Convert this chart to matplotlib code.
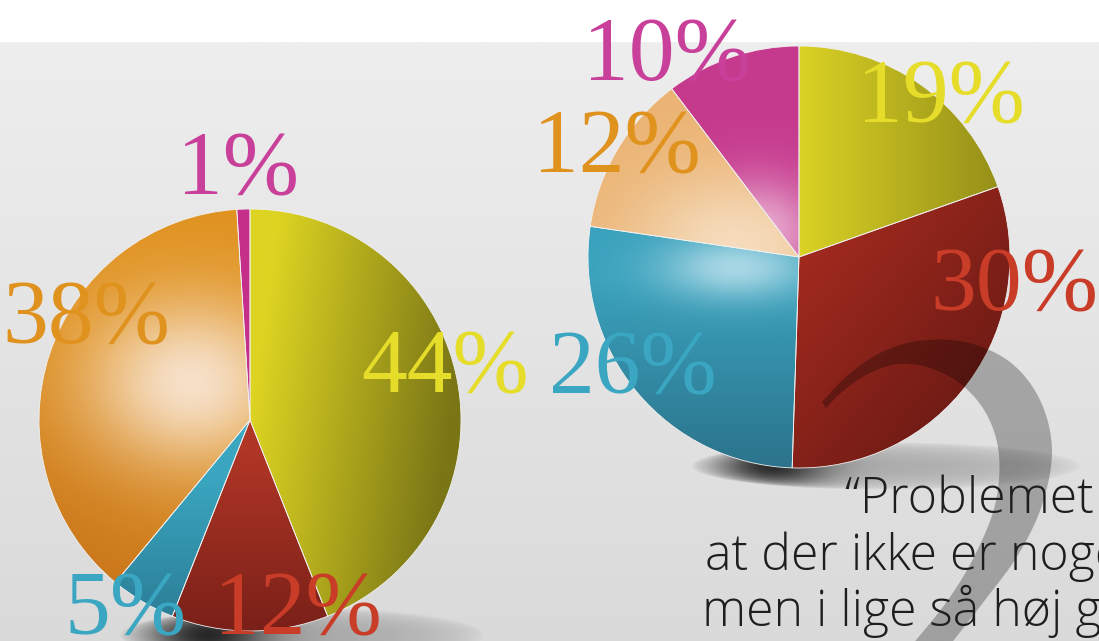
import numpy as np
import matplotlib
matplotlib.use('Agg')
import matplotlib.pyplot as plt
from matplotlib.colors import to_rgb
from matplotlib.patches import Polygon

W, H = 1099, 641

# data
left_values = [44, 12, 5, 38, 1]
left_labels = ['44%', '12%', '5%', '38%', '1%']
right_values = [19, 30, 26, 12, 10]
right_labels = ['19%', '30%', '26%', '12%', '10%']
slice_colors = ['#d4cc22', '#962a1e', '#3496b0', '#e4a04a', '#c63a8e']
label_colors = ['#e6dc2a', '#c83c28', '#3aa6c2', '#e0921e', '#c8409a']
quote_lines = ['\u201cProblemet er', 'at der ikke er noget', 'men i lige så høj grad']

# layout (pixel coords from top-left)
left_center, right_center, pie_r = (250, 420), (799, 257), 211
left_label_pos = [(445, 392), (298, 634), (125, 634), (86, 343), (238, 194)]
right_label_pos = [(941, 122), (1014, 310), (633, 393), (617, 172), (667, 80)]
quote_pos = [(845, 513), (705, 570), (702, 626)]


def Y(py):
    return H - py


def shade(U, V, base, dark, d=(0, 0), off=0.0, hl=None, hc=(0, 0), hs=(0.4, 0.4), hk=0.0):
    b = np.array(to_rgb(base))
    k = np.array(to_rgb(dark))
    t = np.clip(off + d[0] * U + d[1] * V, 0, 1)[..., None]
    img = b * (1 - t) + k * t
    if hl is not None:
        h = hk * np.exp(-((U - hc[0]) / hs[0]) ** 2 - ((V - hc[1]) / hs[1]) ** 2)
        img = img * (1 - h[..., None]) + np.array(to_rgb(hl)) * h[..., None]
    return img


left_specs = [
    dict(base='#ddd422', dark='#7a7616', d=(1.05, -0.15)),
    dict(base='#b03626', dark='#701c16', d=(0, -1.0), off=-0.15),
    dict(base='#3aa6c0', dark='#276f88', d=(0, -1.1), off=-0.3),
    dict(base='#e0921f', dark='#c4701a', d=(-0.35, -0.7), hl='#f6e0c8',
         hc=(-0.28, 0.18), hs=(0.5, 0.4), hk=1.0),
    dict(base='#c52f8a', dark='#b02478'),
]
right_specs = [
    dict(base='#dad224', dark='#8e8818', d=(0.95, 0)),
    dict(base='#a82c20', dark='#6a1a14', d=(0.6, -0.5), off=0.1),
    dict(base='#3aa2bd', dark='#2a6e86', d=(0, -1.0), off=-0.1, hl='#b4dde9',
         hc=(-0.3, -0.05), hs=(0.35, 0.15), hk=0.9),
    dict(base='#ebb474', dark='#e8a860', hl='#f6dec0', hc=(-0.3, 0.05),
         hs=(0.5, 0.35), hk=0.95),
    dict(base='#c63a8e', dark='#c03488', hl='#ecb8d6', hc=(-0.2, 0.12),
         hs=(0.3, 0.25), hk=0.9),
]

fig = plt.figure(figsize=(W / 100, H / 100), dpi=100)
ax = fig.add_axes([0, 0, 1, 1])

# background
g = np.linspace(0, 1, 200)[:, None, None]
bg = np.array(to_rgb('#dadada')) * (1 - g) + np.array(to_rgb('#eeeeee')) * g
bg = np.repeat(bg, 2, axis=1)
ax.imshow(bg, extent=(0, W, 0, Y(42)), origin='lower', zorder=0, interpolation='bilinear')


def shadow(cx, cy, a, b, xd, wd, k):
    xs = np.linspace(cx - a, cx + a, 300)
    ys = np.linspace(cy - b, cy + b, 80)
    X, Yg = np.meshgrid(xs, ys)
    m = np.clip(1 - ((X - cx) / a) ** 2 - ((Yg - cy) / b) ** 2, 0, 1) ** 0.6
    img = np.zeros((80, 300, 4))
    img[..., 3] = np.clip(m * (0.22 + k * np.exp(-((X - xd) / wd) ** 2)), 0, 1)
    ax.imshow(img, extent=(cx - a, cx + a, cy - b, cy + b), origin='lower',
              zorder=0.9, interpolation='bilinear')


shadow(302, Y(635), 183, 27, 195, 65, 0.8)
shadow(886, Y(466), 195, 24, 760, 60, 0.85)


def draw_pie(values, center, specs):
    c = (center[0], Y(center[1]))
    wedges, _ = ax.pie(values, colors=slice_colors, startangle=90, counterclock=False,
                       center=c, radius=pie_r, frame=True,
                       wedgeprops=dict(edgecolor='#f0f0f0', linewidth=0.6))
    u = np.linspace(-1, 1, 400)
    U, V = np.meshgrid(u, u)
    ext = (c[0] - pie_r, c[0] + pie_r, c[1] - pie_r, c[1] + pie_r)
    for w, s in zip(wedges, specs):
        im = ax.imshow(shade(U, V, **s), extent=ext, origin='lower', zorder=2,
                       interpolation='bilinear')
        im.set_clip_path(w)
        w.set_facecolor('none')
        w.set_zorder(3)


draw_pie(left_values, left_center, left_specs)
draw_pie(right_values, right_center, right_specs)


# decorative swoosh
def catmull(pts, n=10):
    pts = np.asarray(pts, float)
    p = np.vstack([pts[0], pts, pts[-1]])
    out = []
    for i in range(1, len(p) - 2):
        p0, p1, p2, p3 = p[i - 1], p[i], p[i + 1], p[i + 2]
        for t in np.linspace(0, 1, n, endpoint=False):
            out.append(0.5 * (2 * p1 + (-p0 + p2) * t + (2 * p0 - 5 * p1 + 4 * p2 - p3) * t * t
                              + (-p0 + 3 * p1 - 3 * p2 + p3) * t ** 3))
    out.append(pts[-1])
    return np.array(out)


outer = [(822, 402), (848, 375), (880, 353), (918, 341), (965, 342), (1010, 362),
         (1040, 400), (1052, 450), (1042, 505), (1018, 555), (985, 600), (950, 645)]
inner = [(912, 645), (948, 600), (975, 555), (995, 505), (999, 455), (987, 415),
         (962, 385), (930, 368), (898, 364), (868, 374), (842, 392), (826, 408)]
sw = np.vstack([catmull(outer), catmull(inner)])
sw[:, 1] = H - sw[:, 1]
ax.add_patch(Polygon(sw, closed=True, facecolor='black', edgecolor='none', alpha=0.27, zorder=4))

# percentage labels
for labels, pos in [(left_labels, left_label_pos), (right_labels, right_label_pos)]:
    for lab, (x, y), col in zip(labels, pos, label_colors):
        ax.text(x, Y(y), lab, color=col, fontsize=66, family='Liberation Serif',
                ha='center', va='baseline', zorder=5)

# quote
for line, (x, y) in zip(quote_lines, quote_pos):
    ax.text(x, Y(y), line, color='#1e1e1e', fontsize=36, family='Open Sans',
            fontweight='light', ha='left', va='baseline', zorder=6)

ax.set_xlim(0, W)
ax.set_ylim(0, H)
ax.set_aspect('auto')
ax.axis('off')
fig.savefig('out.png', dpi=100, facecolor='white')
